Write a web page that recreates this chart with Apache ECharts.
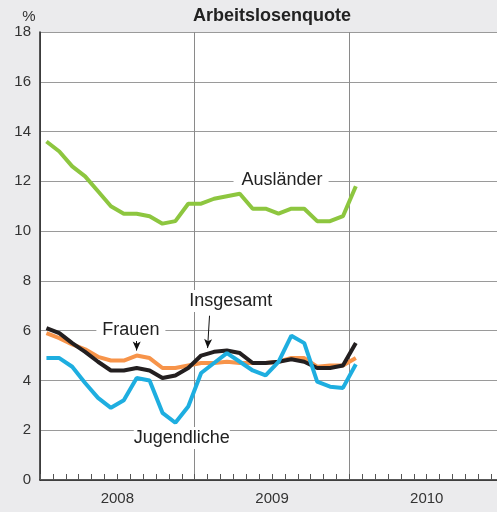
<!DOCTYPE html>
<html>
<head>
<meta charset="utf-8">
<script src="https://cdn.jsdelivr.net/npm/echarts@6/dist/echarts.min.js"></script>
<style>
  html, body { margin: 0; padding: 0; background: #ebebed; }
  #chart { width: 497px; height: 512px; }
</style>
</head>
<body>
<div id="chart"></div>
<script>
// Monthly unemployment rates (%), January 2008 to January 2010
const months = [
  '2008-01','2008-02','2008-03','2008-04','2008-05','2008-06','2008-07','2008-08','2008-09','2008-10','2008-11','2008-12',
  '2009-01','2009-02','2009-03','2009-04','2009-05','2009-06','2009-07','2009-08','2009-09','2009-10','2009-11','2009-12',
  '2010-01'
];
const yearLabels = ['2008', '2009', '2010'];
const auslaender = [13.6,13.2,12.6,12.2,11.6,11.0,10.7,10.7,10.6,10.3,10.4,11.1,11.1,11.3,11.4,11.5,10.9,10.9,10.7,10.9,10.9,10.4,10.4,10.6,11.8];
const insgesamt  = [6.1,5.9,5.5,5.15,4.75,4.4,4.4,4.5,4.4,4.1,4.2,4.5,5.0,5.15,5.2,5.1,4.7,4.7,4.75,4.85,4.75,4.5,4.5,4.6,5.5];
const frauen     = [5.9,5.7,5.45,5.25,4.95,4.8,4.8,5.0,4.9,4.5,4.5,4.6,4.7,4.7,4.75,4.7,4.7,4.7,4.75,4.9,4.9,4.55,4.6,4.6,4.9];
const jugendliche= [4.9,4.9,4.55,3.9,3.3,2.9,3.2,4.1,4.0,2.7,2.3,2.95,4.3,4.7,5.1,4.75,4.4,4.2,4.75,5.8,5.5,3.95,3.75,3.7,4.65];

// x position of a month: months counted from January 2008, plotted mid-month
const monthIndex = m => {
  const [y, mo] = m.split('-').map(Number);
  return (y - 2008) * 12 + (mo - 1) + 0.5;
};
const toPoints = vals => vals.map((v, i) => [monthIndex(months[i]), v]);

// the 2010 column is cut off just before the end of November
const xMax = 35.45;

const textColor = '#222';
const labelFont = 'Liberation Sans, Arial, Helvetica, sans-serif';

const annotationLabel = (name, coord, padding) => ({
  name, coord,
  symbol: 'circle', symbolSize: 0,
  label: {
    show: true, position: 'inside', formatter: name,
    color: textColor, fontSize: 18, fontFamily: labelFont,
    backgroundColor: '#fff', padding
  }
});

const arrow = (from, to) => [
  { coord: from, symbol: 'none' },
  { coord: to, symbol: 'arrow', symbolSize: [6, 9] }
];

const chart = echarts.init(document.getElementById('chart'), null, { renderer: 'canvas' });

chart.setOption({
  backgroundColor: '#ebebed',
  animation: false,
  textStyle: { fontFamily: labelFont },
  title: [
    {
      text: 'Arbeitslosenquote', left: 267, top: 2, textAlign: 'center',
      textStyle: { fontSize: 18, fontWeight: 'bold', color: textColor, fontFamily: labelFont }
    },
    {
      text: '%', left: 24, top: 4, textAlign: 'center',
      textStyle: { fontSize: 15, fontWeight: 'normal', color: '#333', fontFamily: labelFont }
    }
  ],
  grid: {
    left: 40, top: 32, bottom: 32, right: 0,
    outerBoundsMode: 'none',
    show: true, backgroundColor: '#fff', borderWidth: 0
  },
  xAxis: [
    {
      type: 'value', min: 0, max: xMax, interval: 1,
      axisLine: { show: true, onZero: false, lineStyle: { color: '#222', width: 1.5 } },
      axisTick: { show: true, inside: true, length: 6, lineStyle: { color: '#555', width: 1 } },
      splitLine: { show: false },
      axisLabel: {
        show: true, margin: 11, fontSize: 15, color: '#333', fontFamily: labelFont,
        formatter: v => (v % 12 === 6 ? yearLabels[(v - 6) / 12] : '')
      }
    },
    {
      type: 'value', min: 0, max: xMax, interval: 12, position: 'bottom',
      axisLine: { show: false }, axisTick: { show: false }, axisLabel: { show: false },
      splitLine: { show: true, showMaxLine: false, lineStyle: { color: '#8a8a8a', width: 1 } }
    }
  ],
  yAxis: {
    type: 'value', min: 0, max: 18, interval: 2,
    axisLine: { show: true, lineStyle: { color: '#222', width: 1.5 } },
    axisTick: { show: false },
    axisLabel: { margin: 9, fontSize: 15, color: '#333', fontFamily: labelFont },
    splitLine: { show: true, lineStyle: { color: '#9a9a9a', width: 1 } }
  },
  series: [
    {
      name: 'Ausländer', type: 'line', data: toPoints(auslaender),
      symbol: 'none', lineStyle: { color: '#8dc63f', width: 4 }, z: 3,
      markPoint: { silent: true, data: [annotationLabel('Ausländer', [18.7, 12.05], [2, 6, 2, 8])] }
    },
    {
      name: 'Frauen', type: 'line', data: toPoints(frauen),
      symbol: 'none', lineStyle: { color: '#f7944a', width: 4 }, z: 4,
      markPoint: { silent: true, data: [annotationLabel('Frauen', [7.05, 6.03], [2, 6])] },
      markLine: {
        silent: true, symbol: ['none', 'arrow'], label: { show: false },
        lineStyle: { color: '#111', width: 1, type: 'solid' },
        data: [arrow([7.5, 5.7], [7.5, 5.2])]
      }
    },
    {
      name: 'Insgesamt', type: 'line', data: toPoints(insgesamt),
      symbol: 'none', lineStyle: { color: '#231f20', width: 4 }, z: 5,
      markPoint: { silent: true, data: [annotationLabel('Insgesamt', [14.8, 7.19], [2, 2])] },
      markLine: {
        silent: true, symbol: ['none', 'arrow'], label: { show: false },
        lineStyle: { color: '#111', width: 1, type: 'solid' },
        data: [arrow([13.15, 6.6], [13.0, 5.3])]
      }
    },
    {
      name: 'Jugendliche', type: 'line', data: toPoints(jugendliche),
      symbol: 'none', lineStyle: { color: '#1eaee0', width: 4 }, z: 6,
      markPoint: { silent: true, data: [annotationLabel('Jugendliche', [11.0, 1.69], [2, 0])] }
    }
  ]
});
</script>
</body>
</html>
